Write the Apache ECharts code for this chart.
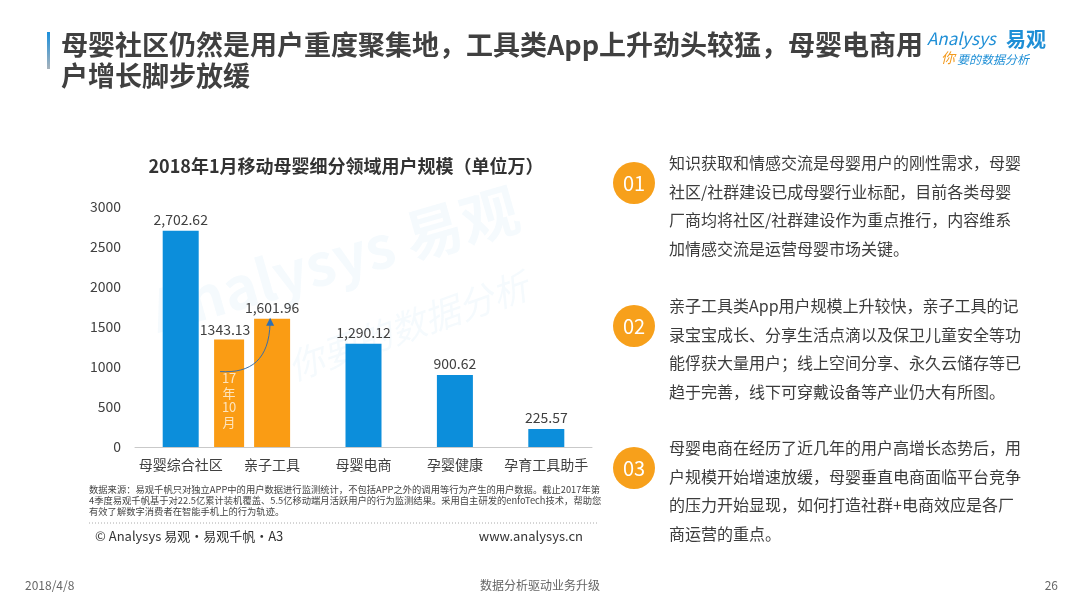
<!DOCTYPE html>
<html><head><meta charset="utf-8">
<script src="https://cdn.jsdelivr.net/npm/echarts@6/dist/echarts.min.js"></script>
<style>html,body{margin:0;padding:0;background:#fff}#c{width:1080px;height:608px}</style>
</head><body><div id="c"></div>
<script>
const categories = ['母婴综合社区', '亲子工具', '母婴电商', '孕婴健康', '孕育工具助手'];
const users2018Jan = [2702.62, 1601.96, 1290.12, 900.62, 225.57];
const toolUsers2017Oct = 1343.13;
const toolOctLabel = '17\n年\n10\n月';
const yMin = 0, yMax = 3000, yInterval = 500;

const titleLines = ['母婴社区仍然是用户重度聚集地，工具类App上升劲头较猛，母婴电商用', '户增长脚步放缓'];
const chartTitle = '2018年1月移动母婴细分领域用户规模（单位万）';
const footnoteLines = [
  '数据来源：易观千帆只对独立APP中的用户数据进行监测统计，不包括APP之外的调用等行为产生的用户数据。截止2017年第',
  '4季度易观千帆基于对22.5亿累计装机覆盖、5.5亿移动端月活跃用户的行为监测结果。采用自主研发的enfoTech技术，帮助您',
  '有效了解数字消费者在智能手机上的行为轨迹。'
];
const copyright = '© Analysys 易观·易观千帆·A3';
const website = 'www.analysys.cn';
const noteNums = ['01', '02', '03'];
const notes = [
  ['知识获取和情感交流是母婴用户的刚性需求，母婴', '社区/社群建设已成母婴行业标配，目前各类母婴', '厂商均将社区/社群建设作为重点推行，内容维系', '加情感交流是运营母婴市场关键。'],
  ['亲子工具类App用户规模上升较快，亲子工具的记', '录宝宝成长、分享生活点滴以及保卫儿童安全等功', '能俘获大量用户；线上空间分享、永久云储存等已', '趋于完善，线下可穿戴设备等产业仍大有所图。'],
  ['母婴电商在经历了近几年的用户高增长态势后，用', '户规模开始增速放缓，母婴垂直电商面临平台竞争', '的压力开始显现，如何打造社群+电商效应是各厂', '商运营的重点。']
];
const footerDate = '2018/4/8';
const footerSlogan = '数据分析驱动业务升级';
const pageNum = '26';

const BLUE = '#0c8edb', ORANGE = '#fa9c14', TXT = '#3c3c3c';
const FONT = "'Noto Sans CJK SC', 'Noto Sans', sans-serif";
const fmt = v => v.toLocaleString('en-US', {minimumFractionDigits: 2, maximumFractionDigits: 2});

const chart = echarts.init(document.getElementById('c'));
const graphics = [];
// watermark
graphics.push({type:'text', z:-10, x:160, y:340, rotation:0.28, style:{text:'Analysys 易观', font:"bold 58px " + FONT, fill:'rgba(20,130,210,0.045)', textVerticalAlign:'bottom'}});
graphics.push({type:'text', z:-10, x:295, y:385, rotation:0.34, style:{text:'你要的数据分析', font:"italic 36px " + FONT, fill:'rgba(20,130,210,0.045)', textVerticalAlign:'bottom'}});
// title bar
graphics.push({type:'rect', shape:{x:47, y:32, width:3, height:37}, style:{fill:new echarts.graphic.LinearGradient(0,0,0,1,[{offset:0,color:'#1a8fdc'},{offset:1,color:'#a9b3bb'}])}});
titleLines.forEach((t, i) => graphics.push({type:'text', style:{text:t, x:61, y:45 + i*31, font:"bold 27px " + FONT, fill:'#404040', textVerticalAlign:'middle'}}));
// logo
graphics.push({type:'text', style:{text:'Analysys', x:927, y:39, font:"italic 17px " + FONT, fill:'#1f8fd6', textVerticalAlign:'middle'}});
graphics.push({type:'text', style:{text:'易观', x:1006, y:39, font:"bold 20px " + FONT, fill:'#1f8fd6', textVerticalAlign:'middle'}});
graphics.push({type:'text', style:{text:'你', x:941, y:58, font:"italic 14px " + FONT, fill:'#f39a1e', textVerticalAlign:'middle'}});
graphics.push({type:'text', style:{text:'要的数据分析', x:957, y:59, font:"italic 12px " + FONT, fill:'#1f8fd6', textVerticalAlign:'middle'}});
// chart title
graphics.push({type:'text', style:{text:chartTitle, x:346, y:166, font:"bold 18px " + FONT, fill:'#333', textAlign:'center', textVerticalAlign:'middle'}});
// footnote
footnoteLines.forEach((t, i) => graphics.push({type:'text', style:{text:t, x:89, y:489 + i*11, font:"9.3px " + FONT, fill:'#444', textVerticalAlign:'middle'}}));
graphics.push({type:'line', shape:{x1:89, y1:523, x2:597, y2:523}, style:{stroke:'#aaa', lineWidth:1, lineDash:[1,2]}});
graphics.push({type:'text', style:{text:copyright, x:95, y:536, font:"13px " + FONT, fill:'#333', textVerticalAlign:'middle'}});
graphics.push({type:'text', style:{text:website, x:583, y:536, font:"13px " + FONT, fill:'#333', textAlign:'right', textVerticalAlign:'middle'}});
// notes
const noteTops = [163, 306, 448];
notes.forEach((lines, k) => {
  graphics.push({type:'circle', shape:{cx:634, cy:noteTops[k] + 20, r:21}, style:{fill:'#f7a01b'}});
  graphics.push({type:'text', style:{text:noteNums[k], x:634, y:noteTops[k] + 20, font:"20px " + FONT, fill:'#fff', textAlign:'center', textVerticalAlign:'middle'}});
  lines.forEach((t, i) => graphics.push({type:'text', style:{text:t, x:669, y:noteTops[k] + i*28.6, font:"16px " + FONT, fill:TXT, textVerticalAlign:'middle'}}));
});
// footer
graphics.push({type:'text', style:{text:footerDate, x:25, y:585, font:"12px " + FONT, fill:'#666', textVerticalAlign:'middle'}});
graphics.push({type:'text', style:{text:footerSlogan, x:540, y:585, font:"12px " + FONT, fill:'#666', textAlign:'center', textVerticalAlign:'middle'}});
graphics.push({type:'text', style:{text:pageNum, x:1058, y:585, font:"12px " + FONT, fill:'#666', textAlign:'right', textVerticalAlign:'middle'}});

const option = {
  animation: false,
  textStyle: {fontFamily: FONT},
  grid: {left: 135, width: 457, top: 207, height: 240},
  xAxis: {
    type: 'category', data: categories,
    axisLine: {lineStyle: {color: '#c9c9c9'}}, axisTick: {show: false},
    axisLabel: {fontSize: 14, color: '#404040', margin: 11, interval: 0}
  },
  yAxis: {
    type: 'value', min: yMin, max: yMax, interval: yInterval,
    axisLine: {show: false}, axisTick: {show: false}, splitLine: {show: false},
    axisLabel: {fontSize: 14, color: '#404040', margin: 14, formatter: v => String(v)}
  },
  series: [
    {
      type: 'bar', barWidth: 36, z: 2,
      data: users2018Jan.map((v, i) => ({value: v, itemStyle: {color: i === 1 ? ORANGE : BLUE}})),
      label: {show: true, position: 'top', distance: 4, fontSize: 14, color: '#404040', formatter: p => fmt(p.value)}
    },
    {
      type: 'custom', z: 3,
      data: [[1, toolUsers2017Oct]],
      renderItem: (params, api) => {
        const ci = api.value(0);
        const top = api.coord([ci, api.value(1)]);
        const base = api.coord([ci, 0]);
        const mainTop = api.coord([ci, users2018Jan[ci]]);
        const cx = top[0] - 43, w = 30;
        const sy = top[1] + 32;
        return {type: 'group', children: [
          {type: 'rect', shape: {x: cx - w/2, y: top[1], width: w, height: base[1] - top[1]}, style: {fill: ORANGE}},
          {type: 'text', style: {text: String(toolUsers2017Oct), x: cx - 4, y: top[1] - 3, textAlign: 'center', textVerticalAlign: 'bottom', font: "14px " + FONT, fill: '#404040'}},
          {type: 'text', style: {text: toolOctLabel, x: cx, y: top[1] + 31, textAlign: 'center', textVerticalAlign: 'top', font: "13px " + FONT, lineHeight: 14.7, fill: '#fde4bd'}},
          {type: 'bezierCurve', shape: {x1: cx - 9, y1: sy, cpx1: cx + 22, cpy1: sy + 2, cpx2: top[0] - 3, cpy2: sy - 12, x2: top[0] - 2, y2: mainTop[1] + 4}, style: {stroke: '#3b6ea6', lineWidth: 1, fill: null}},
          {type: 'polygon', shape: {points: [[top[0] - 2, mainTop[1] - 1], [top[0] - 6, mainTop[1] + 7], [top[0] + 2, mainTop[1] + 7]]}, style: {fill: '#2b6fb6'}}
        ]};
      }
    }
  ],
  graphic: graphics
};
chart.setOption(option);
</script></body></html>
